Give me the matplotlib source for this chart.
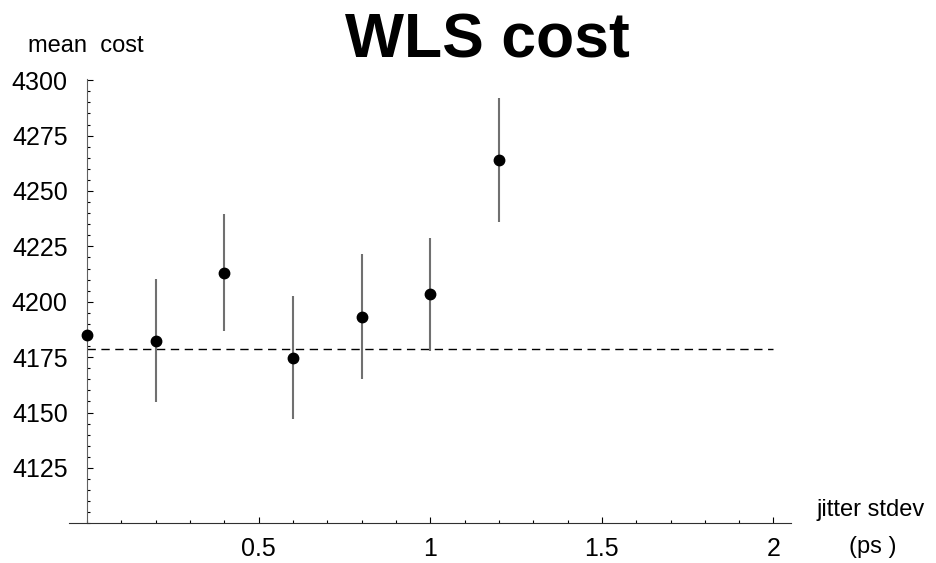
import numpy as np
import matplotlib

matplotlib.use('Agg')
import matplotlib.pyplot as plt
from matplotlib.ticker import MultipleLocator, FixedLocator

plt.rcParams['font.family'] = ['Liberation Sans', 'DejaVu Sans']

# data
jitter = [0.2, 0.4, 0.6, 0.8, 1.0, 1.2]
cost = [4182.4, 4213.2, 4174.8, 4193.2, 4203.3, 4264.0]
err = [27.8, 26.3, 27.9, 28.2, 25.5, 27.8]
base_x = 0.0
base_cost = 4185.0
ref_cost = 4178.5
xticks = [0.5, 1, 1.5, 2]
xticklabels = ['0.5', '1', '1.5', '2']
yticks = [4125, 4150, 4175, 4200, 4225, 4250, 4275, 4300]

fig = plt.figure(figsize=(9.36, 5.63), dpi=100)
ax = fig.add_axes([0.074, 0.0705, 0.7707, 0.789])

ax.plot([0, 2], [ref_cost, ref_cost], color='black', lw=1, dashes=(6, 4))
ax.vlines(jitter, np.array(cost) - np.array(err), np.array(cost) + np.array(err),
          color='#707070', lw=1.5)
ax.plot(jitter, cost, 'o', color='black', ms=7.5, clip_on=False)
ax.plot([base_x], [base_cost], 'o', color='black', ms=7.5, clip_on=False, zorder=5)

ax.set_xlim(-0.052, 2.05)
ax.set_ylim(4100, 4300.5)

for s in ['top', 'right']:
    ax.spines[s].set_visible(False)
ax.spines['left'].set_position(('data', 0))
ax.spines['left'].set_color('#606060')
ax.spines['bottom'].set_color('#303030')

ax.xaxis.set_major_locator(FixedLocator(xticks))
ax.set_xticklabels(xticklabels)
ax.xaxis.set_minor_locator(MultipleLocator(0.1))
ax.yaxis.set_major_locator(FixedLocator(yticks))
ax.yaxis.set_minor_locator(MultipleLocator(5))

ax.tick_params(axis='both', which='major', direction='in', length=4, width=0.8,
               labelsize=18, color='black')
ax.tick_params(axis='both', which='minor', direction='in', length=2, width=0.8,
               color='black')
ax.tick_params(axis='x', which='major', pad=10)
ax.tick_params(axis='y', which='major', pad=14)

fig.text(0.5208, 1 - 57 / 563, 'WLS cost', fontsize=45, fontweight='bold',
         ha='center', va='baseline')
fig.text(86 / 936, 1 - 46 / 563, 'mean  cost', fontsize=17, ha='center', va='center')
fig.text(871 / 936, 1 - 510 / 563, 'jitter stdev', fontsize=17, ha='center', va='center')
fig.text(873 / 936, 1 - 547 / 563, '(ps )', fontsize=17, ha='center', va='center')

plt.savefig('out.png', dpi=100)
